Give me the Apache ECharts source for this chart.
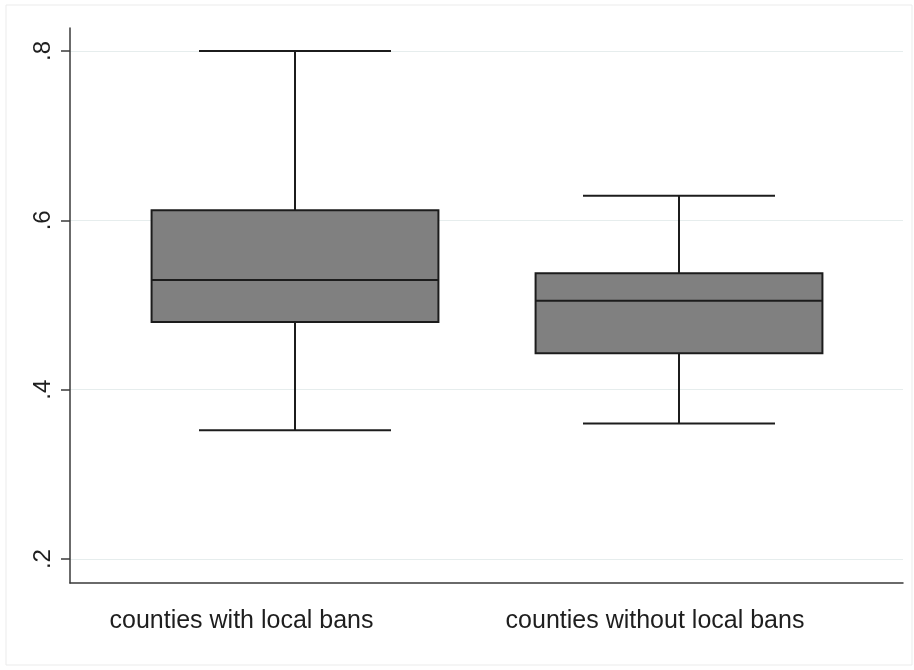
<!DOCTYPE html>
<html>
<head>
<meta charset="utf-8">
<script src="https://cdn.jsdelivr.net/npm/echarts@6/dist/echarts.min.js"></script>
<style>
  html, body { margin: 0; padding: 0; background: #ffffff; }
  #chart { width: 914px; height: 670px; }
</style>
</head>
<body>
<div id="chart"></div>
<script>
// Groups of counties compared in the box plot
const categories = ['counties with local bans', 'counties without local bans'];

// Five-number summaries per group
const whiskerLow  = [0.352, 0.360];
const quartile1   = [0.480, 0.443];
const medians     = [0.5295, 0.505];
const quartile3   = [0.612, 0.5375];
const whiskerHigh = [0.800, 0.629];

// Y axis ticks and their printed labels
const tickValues = [0.2, 0.4, 0.6, 0.8];
const tickLabels = ['.2', '.4', '.6', '.8'];

const yMin = 0.1717;
const yMax = 0.8272;

const boxData = categories.map((c, i) => [
  i, whiskerLow[i], quartile1[i], medians[i], quartile3[i], whiskerHigh[i]
]);

const ink = '#1c1c1c';
const fontFamily = '"Liberation Sans", Arial, Helvetica, sans-serif';

function renderBox(params, api) {
  const x = api.value(0);
  const lo = api.coord([x, api.value(1)]);
  const q1 = api.coord([x, api.value(2)]);
  const md = api.coord([x, api.value(3)]);
  const q3 = api.coord([x, api.value(4)]);
  const hi = api.coord([x, api.value(5)]);
  const band = api.size([1, 0])[0];
  const boxW = band * 0.747;
  const capW = band * 0.5;
  const cx = lo[0];
  const stroke = { stroke: ink, lineWidth: 2 };
  return {
    type: 'group',
    children: [
      { type: 'line', shape: { x1: cx, y1: hi[1], x2: cx, y2: q3[1] }, style: stroke },
      { type: 'line', shape: { x1: cx, y1: q1[1], x2: cx, y2: lo[1] }, style: stroke },
      { type: 'line', shape: { x1: cx - capW / 2, y1: hi[1], x2: cx + capW / 2, y2: hi[1] }, style: stroke },
      { type: 'line', shape: { x1: cx - capW / 2, y1: lo[1], x2: cx + capW / 2, y2: lo[1] }, style: stroke },
      { type: 'rect', shape: { x: cx - boxW / 2, y: q3[1], width: boxW, height: q1[1] - q3[1] },
        style: { fill: '#808080', stroke: ink, lineWidth: 2 } },
      { type: 'line', shape: { x1: cx - boxW / 2, y1: md[1], x2: cx + boxW / 2, y2: md[1] }, style: stroke }
    ]
  };
}

const chart = echarts.init(document.getElementById('chart'), null, { renderer: 'canvas' });

chart.setOption({
  animation: false,
  backgroundColor: '#ffffff',
  graphic: [{
    type: 'rect',
    shape: { x: 6, y: 5, width: 906, height: 660 },
    style: { fill: 'none', stroke: '#ebebeb', lineWidth: 1 },
    silent: true
  }],
  grid: [
    { left: 70, right: 11, top: 28, bottom: 87 },
    { left: 103, right: 43, top: 28, bottom: 87 }
  ],
  xAxis: [
    {
      gridIndex: 0, type: 'value', min: 0, max: 1,
      axisLine: { show: true, lineStyle: { color: '#3a3a3a', width: 1.5 } },
      axisTick: { show: false }, axisLabel: { show: false }, splitLine: { show: false }
    },
    {
      gridIndex: 1, type: 'category', data: categories,
      axisLine: { show: false }, axisTick: { show: false }, splitLine: { show: false },
      axisLabel: {
        interval: 0,
        hideOverlap: false,
        margin: 26,
        color: '#1e1e1e',
        fontFamily: fontFamily,
        fontSize: 25,
        formatter: (v, i) => '{c' + i + '|' + v + '}',
        rich: {
          c0: { fontFamily: fontFamily, fontSize: 25, color: '#1e1e1e', padding: [0, 107, 0, 0] },
          c1: { fontFamily: fontFamily, fontSize: 25, color: '#1e1e1e', padding: [0, 48, 0, 0] }
        }
      }
    }
  ],
  yAxis: [
    {
      gridIndex: 0, type: 'value', min: yMin, max: yMax,
      axisLine: { show: true, lineStyle: { color: '#3a3a3a', width: 1.5 } },
      axisTick: { show: true, length: 9, customValues: tickValues, lineStyle: { color: '#3a3a3a', width: 1.5 } },
      axisLabel: {
        customValues: tickValues,
        rotate: 90,
        margin: 15,
        color: '#1e1e1e',
        fontFamily: fontFamily,
        fontSize: 24,
        formatter: v => tickLabels[tickValues.findIndex(t => Math.abs(t - v) < 1e-9)]
      },
      splitLine: { show: true, lineStyle: { color: '#e6eded', width: 1.2 } }
    },
    {
      gridIndex: 1, type: 'value', min: yMin, max: yMax, show: false
    }
  ],
  series: [{
    type: 'custom',
    xAxisIndex: 1,
    yAxisIndex: 1,
    renderItem: renderBox,
    encode: { x: 0, y: [1, 2, 3, 4, 5] },
    data: boxData
  }]
});
</script>
</body>
</html>
